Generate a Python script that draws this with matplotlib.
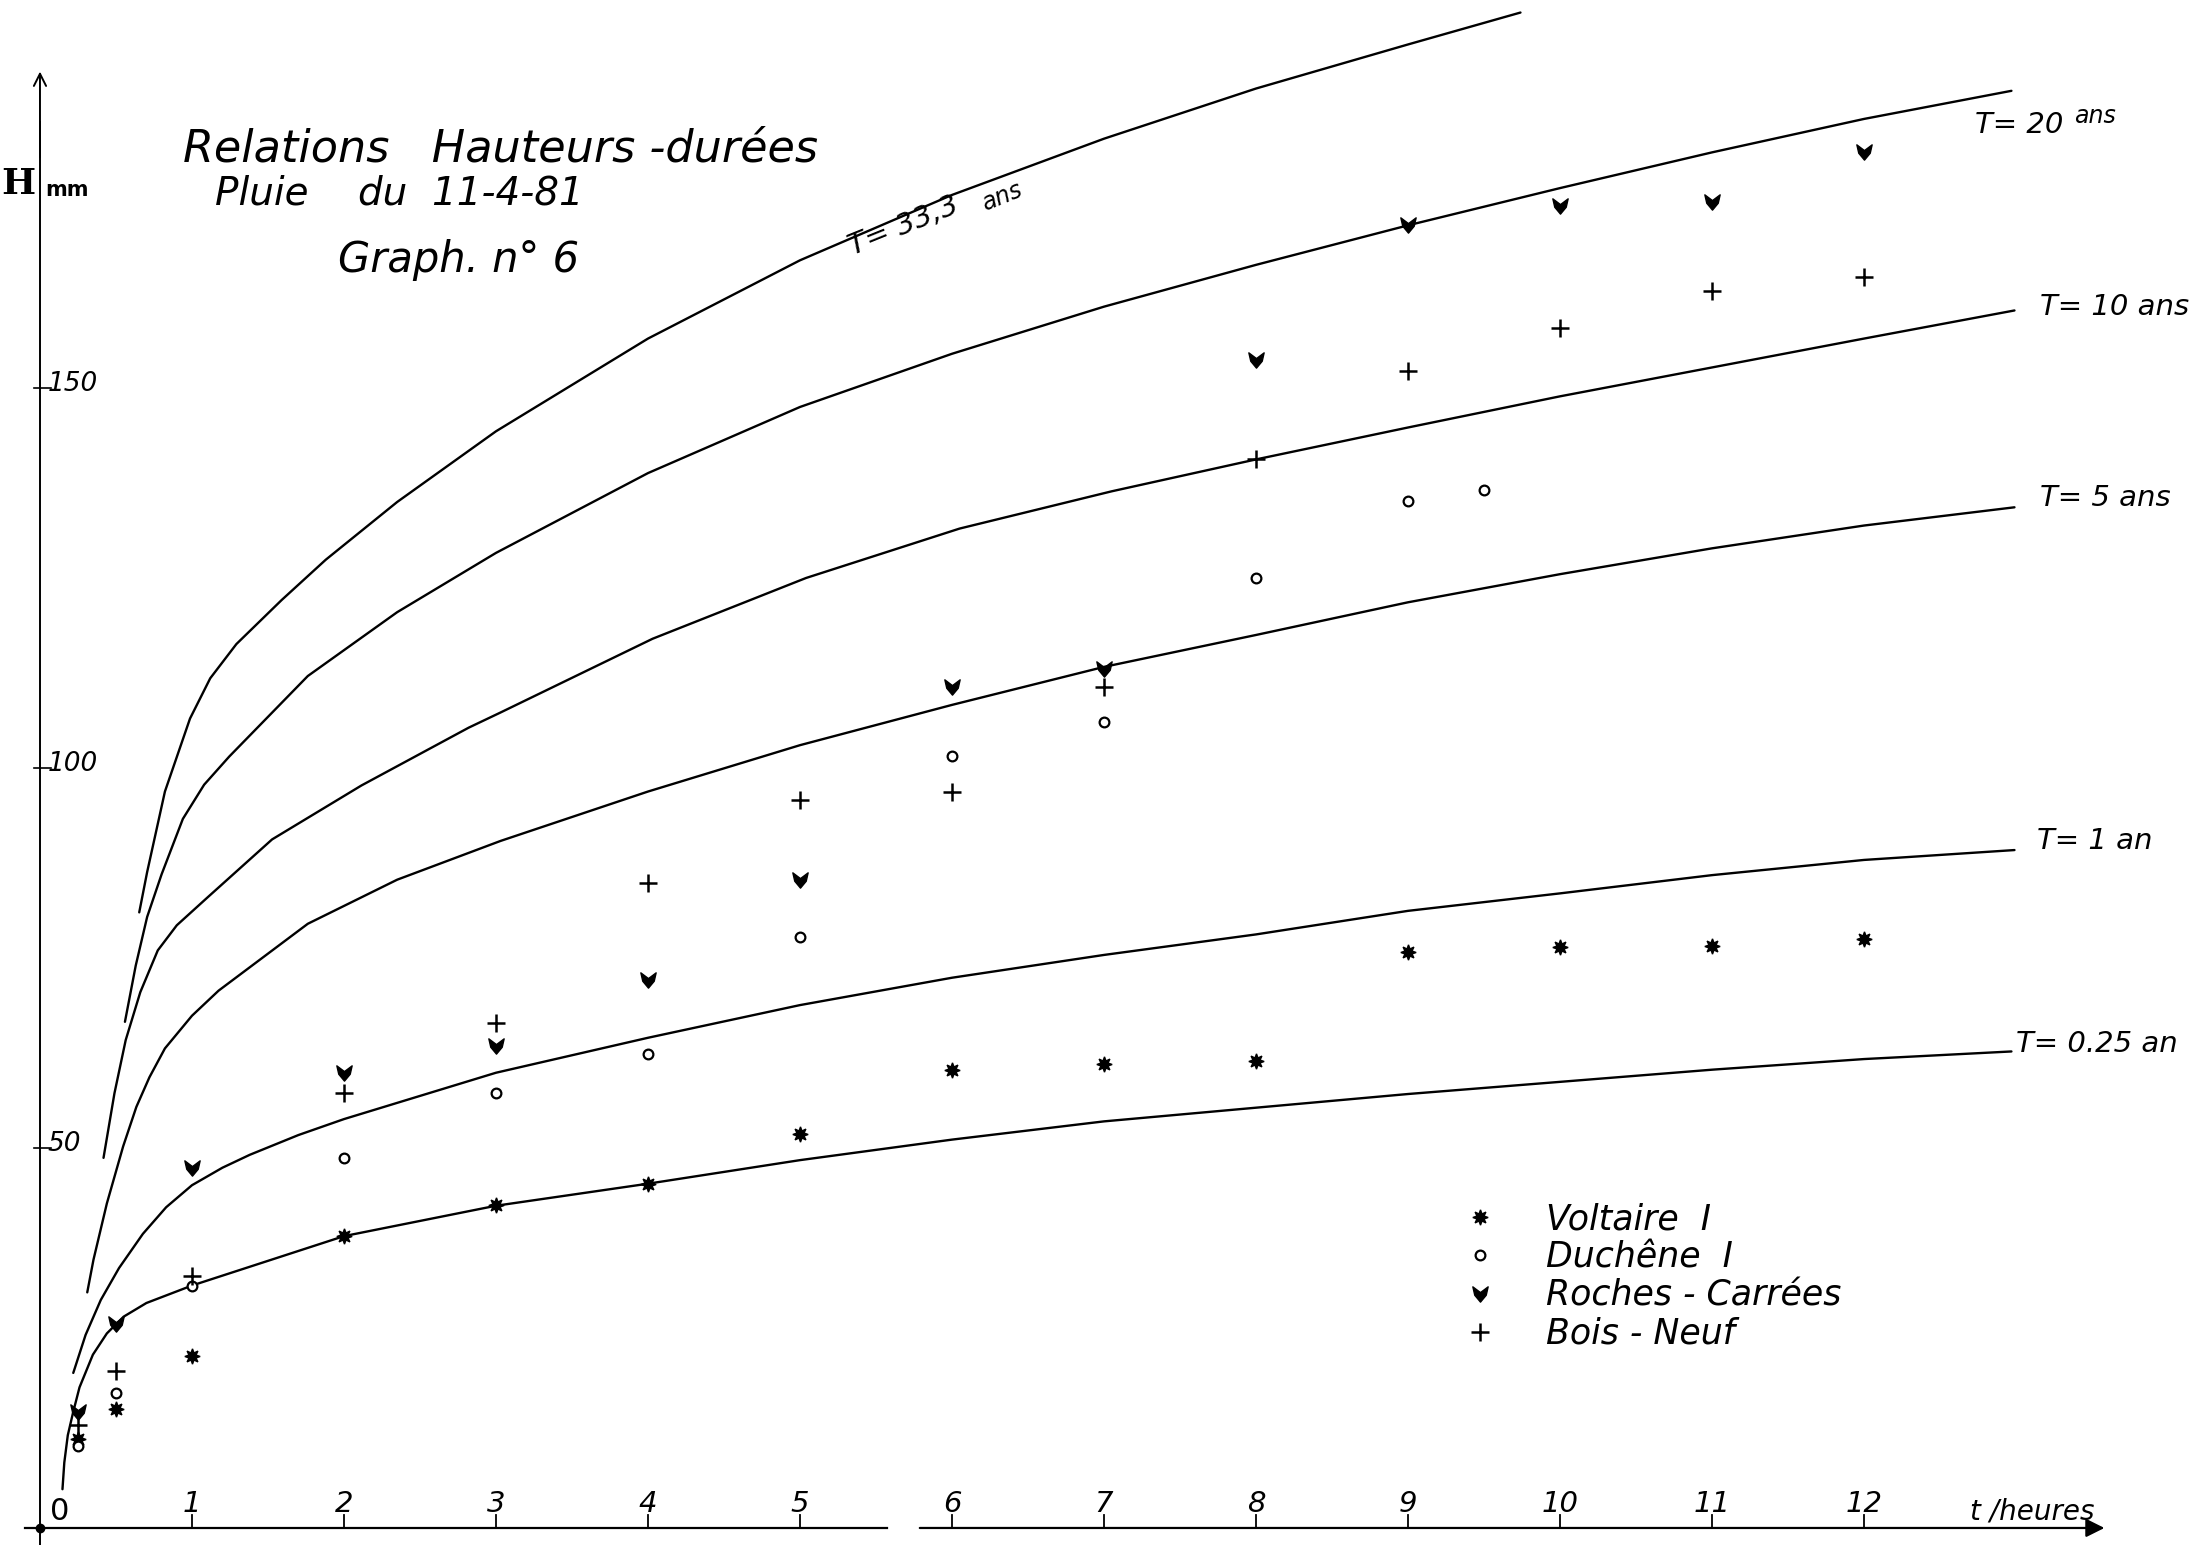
import numpy as np
import matplotlib
matplotlib.use('Agg')
import matplotlib.pyplot as plt
from matplotlib.path import Path
from matplotlib.lines import Line2D

# hauteur-duree, pluie du 11-4-81
t_volt = [0.25, 0.5, 1, 2, 3, 4, 5, 6, 7, 8, 9, 10, 11, 12]
h_volt = [11.7, 15.7, 22.6, 38.4, 42.5, 45.3, 51.8, 60.3, 61.0, 61.4, 75.8, 76.4, 76.6, 77.5]

t_duch = [0.25, 0.5, 1, 2, 3, 4, 5, 6, 7, 8, 9, 9.5]
h_duch = [10.8, 17.7, 31.8, 48.7, 57.2, 62.4, 77.8, 101.6, 106.0, 125.0, 135.1, 136.6]

t_roch = [0.25, 0.5, 1, 2, 3, 4, 5, 6, 7, 8, 9, 10, 11, 12]
h_roch = [15.3, 26.8, 47.4, 59.9, 63.4, 72.1, 85.2, 110.7, 113.0, 153.7, 171.5, 174.0, 174.5, 181.1]

t_bois = [0.25, 0.5, 1, 2, 3, 4, 5, 6, 7, 8, 9, 10, 11, 12]
h_bois = [13.5, 20.7, 33.2, 57.2, 66.4, 84.9, 95.8, 96.9, 110.6, 140.6, 152.2, 157.9, 162.8, 164.6]

# courbes de periode de retour
t_T025 = [0.148, 0.16, 0.183, 0.219, 0.26, 0.348, 0.44, 0.55, 0.7, 1, 2, 3, 4, 5, 6, 7,
          8, 9, 10, 11, 12, 12.97]
h_T025 = [5.1, 8.6, 12.2, 15.3, 18.5, 22.8, 25.6, 27.8, 29.6, 31.9, 38.4, 42.4, 45.3, 48.4,
          51.1, 53.5, 55.3, 57.1, 58.7, 60.3, 61.7, 62.7]

t_T1 = [0.219, 0.30, 0.40, 0.52, 0.677, 0.83, 1, 1.2, 1.38, 1.7, 2, 3, 4, 5, 6, 7, 8, 9,
        10, 11, 12, 12.99]
h_T1 = [20.4, 25.4, 30.0, 34.2, 38.7, 42.2, 45.1, 47.4, 49.1, 51.7, 53.8, 59.9, 64.5, 68.8,
        72.4, 75.4, 78.1, 81.2, 83.5, 85.9, 87.9, 89.2]

t_T5 = [0.311, 0.352, 0.44, 0.547, 0.634, 0.72, 0.822, 1.0, 1.175, 1.762, 2.35, 3.03, 4, 5,
        6, 7, 8, 9, 10, 11, 12, 12.99]
h_T5 = [31.0, 35.3, 42.7, 50.2, 55.4, 59.3, 63.1, 67.4, 70.7, 79.5, 85.3, 90.4, 96.9, 103.0,
        108.3, 113.3, 117.5, 121.8, 125.5, 128.9, 131.9, 134.3]

t_T10 = [0.418, 0.49, 0.564, 0.66, 0.775, 0.9, 1.104, 1.527, 2.115, 2.82, 3.03, 4.03, 5.04,
         6.05, 7.05, 8, 9, 10, 11, 12, 12.99]
h_T10 = [48.7, 57.2, 64.2, 70.5, 76.0, 79.3, 83.0, 90.6, 97.7, 105.3, 107.3, 117.0, 125.0,
         131.5, 136.4, 140.6, 144.8, 148.9, 152.7, 156.5, 160.2]

t_T20 = [0.559, 0.63, 0.705, 0.8, 0.94, 1.08, 1.245, 1.762, 2.35, 3.0, 4, 5, 6, 7, 8, 9,
         10, 11, 12, 12.97]
h_T20 = [66.6, 74.0, 80.4, 86.0, 93.3, 97.8, 101.5, 112.1, 120.5, 128.3, 138.8, 147.5, 154.5,
         160.7, 166.2, 171.4, 176.3, 181.0, 185.4, 189.1]

t_T33 = [0.653, 0.705, 0.822, 0.987, 1.12, 1.292, 1.59, 1.88, 2.35, 3.0, 4, 5, 6, 7, 8, 9,
         9.74]
h_T33 = [81.0, 86.3, 96.9, 106.5, 111.8, 116.3, 122.1, 127.4, 135.0, 144.3, 156.5, 166.8,
         175.4, 182.8, 189.4, 195.2, 199.4]

xticks = list(range(1, 13))
yticks = [50, 100, 150]

HAND = ['DejaVu Sans']
plt.rcParams['font.family'] = HAND

fig = plt.figure(figsize=(22.06, 15.45), dpi=100)
ax = fig.add_axes([0, 0, 1, 1])
ax.set_xlim(-0.263, 14.25)
ax.set_ylim(-2.24, 201.05)
ax.axis('off')

k = dict(color='black', lw=1.7, solid_capstyle='round', solid_joinstyle='round')
for tt, hh in [(t_T025, h_T025), (t_T1, h_T1), (t_T5, h_T5),
               (t_T10, h_T10), (t_T20, h_T20), (t_T33, h_T33)]:
    ax.plot(tt, hh, **k)

# axes drawn by hand like the original
ax.plot([0, 0], [-2.3, 185], color='black', lw=1.4)
ax.annotate('', xy=(0, 192), xytext=(0, 180),
            arrowprops=dict(arrowstyle='->', color='black', lw=1.4, mutation_scale=22))
ax.plot([-0.1, 5.57], [0, 0], color='black', lw=1.6)
ax.annotate('', xy=(13.6, 0), xytext=(5.77, 0),
            arrowprops=dict(arrowstyle='-|>', color='black', lw=1.6, mutation_scale=28))
ax.plot([0], [0], marker='o', ms=6, color='black')

for x in xticks:
    ax.plot([x, x], [0, 1.7], color='black', lw=1.3)
    ax.text(x, 3.2, str(x), ha='center', va='center', fontsize=21, style='italic')
ax.text(0.13, 2.2, '0', ha='center', va='center', fontsize=22)
ax.text(12.7, 2.2, 't /heures', ha='left', va='center', fontsize=20, style='italic')

for y in yticks:
    ax.plot([-0.04, 0.07], [y, y], color='black', lw=1.2)
    ax.text(0.05, y - 1.2, str(y), ha='left', va='bottom', fontsize=19, style='italic')

ax.text(-0.14, 176.8, 'H', ha='center', va='center', fontsize=26, fontweight='bold',
        family=['DejaVu Serif'])
ax.text(0.18, 176.0, 'mm', ha='center', va='center', fontsize=15, fontweight='bold')

ax.text(0.94, 181.4, 'Relations   Hauteurs -durées', ha='left', va='center', fontsize=32,
        style='italic')
ax.text(1.15, 175.6, 'Pluie    du  11-4-81', ha='left', va='center', fontsize=28,
        style='italic')
ax.text(1.96, 166.8, 'Graph. n° 6', ha='left', va='center', fontsize=30, style='italic')

# labels des courbes
lab = dict(ha='left', va='center', fontsize=21, style='italic')
ax.text(5.33, 168.4, 'T= 33,3', rotation=22, rotation_mode='anchor', **lab)
ax.text(6.2, 174.2, 'ans', rotation=22, rotation_mode='anchor', ha='left', va='center',
        fontsize=17, style='italic')
ax.text(12.73, 184.6, 'T= 20', **lab)
ax.text(13.38, 185.8, 'ans', ha='left', va='center', fontsize=17, style='italic')
ax.text(13.16, 160.7, 'T= 10 ans', **lab)
ax.text(13.16, 135.5, 'T= 5 ans', **lab)
ax.text(13.14, 90.4, 'T= 1 an', **lab)
ax.text(13.0, 63.7, 'T= 0.25 an', **lab)

# marqueurs
heart = Path([(-1, 1), (0, 0.25), (1, 1), (0.75, -0.1), (0, -1), (-0.75, -0.1), (-1, 1)],
             [Path.MOVETO] + [Path.LINETO] * 5 + [Path.CLOSEPOLY])
st_volt = dict(marker=(8, 1, 0), ms=11, color='black', ls='none')
st_duch = dict(marker='o', ms=7, mfc='white', mec='black', mew=1.6, ls='none')
st_roch = dict(marker=heart, ms=11, color='black', ls='none')
st_bois = dict(marker='+', ms=13, mew=1.8, color='black', ls='none')

ax.plot(t_volt, h_volt, **st_volt)
ax.plot(t_duch, h_duch, **st_duch)
ax.plot(t_roch, h_roch, **st_roch)
ax.plot(t_bois, h_bois, **st_bois)

handles = [Line2D([], [], **st_volt), Line2D([], [], **st_duch),
           Line2D([], [], **st_roch), Line2D([], [], **st_bois)]
labels = ['Voltaire  I', 'Duchêne  I', 'Roches - Carrées', 'Bois - Neuf']
ax.legend(handles, labels, loc='upper left', bbox_to_anchor=(0.655, 0.233), frameon=False,
          prop=dict(size=25, style='italic', family=HAND), handlelength=1.0,
          handletextpad=1.4, labelspacing=0.12, borderpad=0)

fig.savefig('out.png', dpi=100, facecolor='white')
